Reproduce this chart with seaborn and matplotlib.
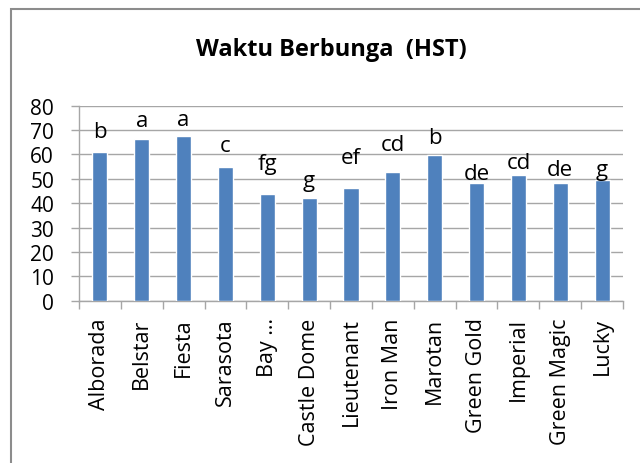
import matplotlib
matplotlib.use("Agg")
import matplotlib.pyplot as plt
import seaborn as sns
import pandas as pd
import numpy as np
from matplotlib.patches import Rectangle

varieties = ["Alborada", "Belstar", "Fiesta", "Sarasota", "Bay …", "Castle Dome",
             "Lieutenant", "Iron Man", "Marotan", "Green Gold", "Imperial",
             "Green Magic", "Lucky"]
days = [61.2, 66.4, 67.4, 54.8, 43.7, 42.2, 46.3, 52.6, 59.8, 48.4, 51.6, 48.4, 49.6]
letters = ["b", "a", "a", "c", "fg", "g", "ef", "cd", "b", "de", "cd", "de", "g"]
label_gap_px = [15, 13, 11, 16, 25, 12, 25, 22, 12, 4, 7, 8, 5]
y_ticks = [0, 10, 20, 30, 40, 50, 60, 70, 80]
title = "Waktu Berbunga  (HST)"

sns.set_theme(style="white")
plt.rcParams['font.family'] = ['Open Sans', 'DejaVu Sans']

df = pd.DataFrame({"Varietas": varieties, "HST": days})

fig = plt.figure(figsize=(6.4, 4.64), dpi=100)
fig.patch.set_facecolor("white")
ax = fig.add_axes([79/640, 1-301.7/464, (623-79)/640, (301.7-106.7)/464])

grid_c = "#a6a6a6"
sns.barplot(data=df, x="Varietas", y="HST", color="#4f81bd", width=0.36,
            saturation=1, ax=ax, zorder=3)

ax.set_ylim(0, 80)
ax.set_xlim(-0.5, len(varieties)-0.5)
ax.set_yticks(y_ticks)
ax.yaxis.grid(True, color=grid_c, linewidth=1.0, zorder=0)
ax.set_axisbelow(True)
ax.set_xlabel("")
ax.set_ylabel("")

for s in ["top", "right"]:
    ax.spines[s].set_visible(False)
for s in ["left", "bottom"]:
    ax.spines[s].set_color(grid_c)
    ax.spines[s].set_linewidth(1.0)

ax.tick_params(axis="y", which="major", length=6, width=1, color=grid_c,
               labelsize=15, pad=12, labelcolor="black", left=True, direction="out")
ax.set_xticks(np.arange(len(varieties)))
ax.set_xticklabels(varieties, rotation=90, fontsize=15.5)
ax.tick_params(axis="x", which="major", length=0, pad=12, labelcolor="black")
ax.set_xticks(np.arange(-0.5, len(varieties)), minor=True)
ax.tick_params(axis="x", which="minor", length=6, width=1, color=grid_c,
               bottom=True, direction="out")

for i, (v, lab, g) in enumerate(zip(days, letters, label_gap_px)):
    ax.annotate(lab, (i, v), xytext=(0, g), textcoords="offset pixels",
                ha="center", va="baseline", fontsize=16, color="black", zorder=5)

fig.text(331/640, 1-50/464, title, ha="center", va="center",
         fontsize=17, fontweight="bold", color="black")

fig.patches.append(Rectangle((11/640, -0.1), 1.2, 1 - 10/464 + 0.1,
                             transform=fig.transFigure, fill=False,
                             edgecolor="#8c8c8c", linewidth=1.5, zorder=10))

fig.savefig("out.png", dpi=100, facecolor="white")
